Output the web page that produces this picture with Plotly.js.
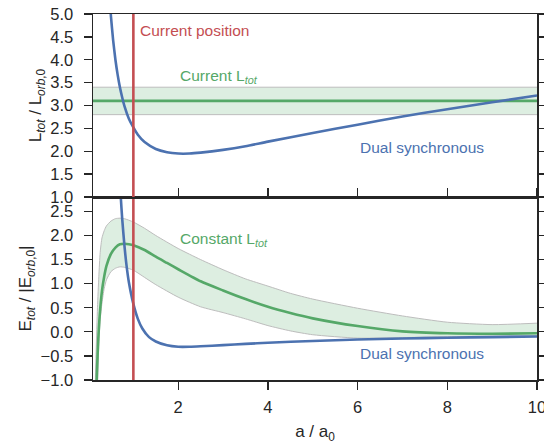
<!DOCTYPE html>
<html>
<head>
<meta charset="utf-8">
<script src="https://cdn.plot.ly/plotly-3.0.1.min.js"></script>
<style>html,body{margin:0;padding:0;background:#fff;}#plot{width:544px;height:444px;}</style>
</head>
<body>
<div id="plot"></div>
<script>
// ---------- data ----------
const currentPos = 1.0;                       // a / a0 of the current position
const xRange = [0.1, 10];

// Top panel: L_tot / L_orb,0
const topBandX = [0.1, 10];
const topBandLow = [2.8, 2.8];
const topBandHigh = [3.4, 3.4];
const topCurrentL = [3.1, 3.1];

const dsTopX = [0.45, 0.5, 0.55, 0.6, 0.65, 0.7, 0.75, 0.8, 0.9, 1.0, 1.1, 1.25, 1.5, 1.75, 2.0, 2.25, 2.5, 3.0, 3.5, 4.0, 5.0, 6.0, 7.0, 8.0, 9.0, 10.0];
const dsTopY = [5.64, 4.95, 4.42, 4.00, 3.67, 3.40, 3.18, 2.99, 2.71, 2.52, 2.36, 2.20, 2.05, 1.98, 1.95, 1.95, 1.97, 2.03, 2.11, 2.21, 2.40, 2.58, 2.76, 2.92, 3.07, 3.22];

// Bottom panel: E_tot / |E_orb,0|
const clX = [0.15, 0.18, 0.21, 0.25, 0.3, 0.35, 0.4, 0.5, 0.6, 0.7, 0.8, 0.9, 1.0, 1.25, 1.5, 1.75, 2.0, 2.5, 3.0, 3.5, 4.0, 4.5, 5.0, 6.0, 7.0, 8.0, 9.0, 10.0];
const clY = [-2.0, -1.05, -0.30, 0.35, 0.85, 1.15, 1.37, 1.62, 1.75, 1.82, 1.83, 1.82, 1.80, 1.70, 1.56, 1.43, 1.30, 1.05, 0.86, 0.68, 0.52, 0.39, 0.28, 0.12, 0.01, -0.03, -0.04, -0.03];

const bandX = [0.13, 0.15, 0.17, 0.2, 0.23, 0.26, 0.3, 0.35, 0.4, 0.5, 0.6, 0.7, 0.8, 1.0, 1.25, 1.5, 2.0, 2.5, 3.0, 3.5, 4.0, 4.5, 5.0, 6.0, 7.0, 8.0, 9.0, 10.0];
const bandHigh = [-2.0, -1.1, -0.4, 0.5, 1.15, 1.65, 1.95, 2.10, 2.20, 2.30, 2.35, 2.36, 2.35, 2.28, 2.15, 2.00, 1.73, 1.50, 1.29, 1.10, 0.95, 0.80, 0.68, 0.49, 0.33, 0.20, 0.15, 0.18];
const bandLow = [-6.0, -4.0, -2.5, -1.2, -0.25, 0.25, 0.60, 0.90, 1.08, 1.25, 1.32, 1.35, 1.34, 1.28, 1.13, 0.98, 0.72, 0.52, 0.40, 0.27, 0.13, 0.02, -0.06, -0.13, -0.12, -0.10, -0.09, -0.08];

const dsBotX = [0.65, 0.7, 0.72, 0.75, 0.8, 0.85, 0.9, 1.0, 1.1, 1.2, 1.35, 1.5, 1.75, 2.0, 2.25, 2.5, 3.0, 3.5, 4.0, 5.0, 6.0, 7.0, 8.0, 9.0, 10.0];
const dsBotY = [4.1, 3.1, 2.79, 2.36, 1.80, 1.36, 1.03, 0.58, 0.27, 0.07, -0.11, -0.20, -0.28, -0.31, -0.31, -0.30, -0.275, -0.25, -0.226, -0.19, -0.16, -0.138, -0.122, -0.109, -0.098];

const topYRange = [1, 5];
const botYRange = [-1, 2.8];

// ---------- styles ----------
const BLUE = '#4c72b0', GREEN = '#55a868', RED = '#c44e52';
const FILL = 'rgba(85,168,104,0.2)', EDGE = '#bdbdbd';
const FONT = 'Liberation Sans, Arial, sans-serif';
const INK = '#262626';

const traces = [
  // top panel
  {x: topBandX, y: topBandHigh, xaxis: 'x2', yaxis: 'y2', mode: 'lines', line: {color: EDGE, width: 1}},
  {x: topBandX, y: topBandLow, xaxis: 'x2', yaxis: 'y2', mode: 'lines', line: {color: EDGE, width: 1}, fill: 'tonexty', fillcolor: FILL},
  {x: topBandX, y: topCurrentL, xaxis: 'x2', yaxis: 'y2', mode: 'lines', line: {color: GREEN, width: 2.6}},
  {x: dsTopX, y: dsTopY, xaxis: 'x2', yaxis: 'y2', mode: 'lines', line: {color: BLUE, width: 2.6, shape: 'spline', smoothing: 0.6}},
  {x: [currentPos, currentPos], y: topYRange, xaxis: 'x2', yaxis: 'y2', mode: 'lines', line: {color: RED, width: 2.6}},
  // bottom panel
  {x: bandX, y: bandHigh, xaxis: 'x', yaxis: 'y', mode: 'lines', line: {color: EDGE, width: 1, shape: 'spline', smoothing: 0.6}},
  {x: bandX, y: bandLow, xaxis: 'x', yaxis: 'y', mode: 'lines', line: {color: EDGE, width: 1, shape: 'spline', smoothing: 0.6}, fill: 'tonexty', fillcolor: FILL},
  {x: clX, y: clY, xaxis: 'x', yaxis: 'y', mode: 'lines', line: {color: GREEN, width: 2.6, shape: 'spline', smoothing: 0.6}},
  {x: dsBotX, y: dsBotY, xaxis: 'x', yaxis: 'y', mode: 'lines', line: {color: BLUE, width: 2.6, shape: 'spline', smoothing: 0.6}},
  {x: [currentPos, currentPos], y: botYRange, xaxis: 'x', yaxis: 'y', mode: 'lines', line: {color: RED, width: 2.6}}
];

const axisCommon = {
  showline: true, linecolor: INK, linewidth: 1.5, showgrid: false, zeroline: false,
  tickfont: {family: FONT, size: 16.5, color: INK}, tickcolor: INK, tickwidth: 1.3, ticklen: 8,
  ticklabeloverflow: 'allow'
};

const layout = {
  width: 544, height: 444,
  margin: {l: 93, r: 7, t: 14, b: 64},
  paper_bgcolor: '#ffffff', plot_bgcolor: '#ffffff',
  showlegend: false,
  font: {family: FONT, color: INK},
  xaxis: Object.assign({}, axisCommon, {
    domain: [0, 1], anchor: 'y', range: xRange, tickmode: 'linear', tick0: 0, dtick: 2,
    ticks: 'outside', mirror: 'ticks', ticklabelstandoff: 4,
    title: {text: 'a / a<sub>0</sub>', font: {family: FONT, size: 17, color: INK}}
  }),
  xaxis2: Object.assign({}, axisCommon, {
    domain: [0, 1], anchor: 'y2', range: xRange, matches: 'x', showticklabels: false, ticks: '', mirror: true
  }),
  yaxis: Object.assign({}, axisCommon, {
    domain: [0, 0.5], anchor: 'x', range: botYRange, tickmode: 'linear', tick0: -1, dtick: 0.5,
    tickformat: '.1f', ticks: 'outside', mirror: 'ticks', ticklabelstandoff: 7,
    title: {text: 'E<sub><i>tot</i></sub> / |E<sub><i>orb</i>,0</sub>|', font: {family: FONT, size: 17, color: INK}, standoff: 4}
  }),
  yaxis2: Object.assign({}, axisCommon, {
    domain: [0.5, 1], anchor: 'x2', range: topYRange, tickmode: 'linear', tick0: 1, dtick: 0.5,
    tickformat: '.1f', ticks: 'outside', mirror: 'ticks', ticklabelstandoff: 7,
    title: {text: 'L<sub><i>tot</i></sub> / L<sub><i>orb</i>,0</sub>', font: {family: FONT, size: 17, color: INK}, standoff: 4}
  }),
  annotations: [
    {text: 'Current position', xref: 'x2', yref: 'y2', x: 1.1, y: 4.63, xanchor: 'left', yanchor: 'middle', showarrow: false, font: {family: FONT, size: 15.5, color: RED}},
    {text: 'Current L<sub><i>tot</i></sub>', xref: 'x2', yref: 'y2', x: 2.0, y: 3.63, xanchor: 'left', yanchor: 'middle', showarrow: false, font: {family: FONT, size: 15.5, color: GREEN}},
    {text: 'Dual synchronous', xref: 'x2', yref: 'y2', x: 6.0, y: 2.09, xanchor: 'left', yanchor: 'middle', showarrow: false, font: {family: FONT, size: 15.5, color: BLUE}},
    {text: 'Constant L<sub><i>tot</i></sub>', xref: 'x', yref: 'y', x: 2.0, y: 1.92, xanchor: 'left', yanchor: 'middle', showarrow: false, font: {family: FONT, size: 15.5, color: GREEN}},
    {text: 'Dual synchronous', xref: 'x', yref: 'y', x: 6.0, y: -0.45, xanchor: 'left', yanchor: 'middle', showarrow: false, font: {family: FONT, size: 15.5, color: BLUE}}
  ],
  hovermode: false
};

Plotly.newPlot('plot', traces, layout, {staticPlot: true, displayModeBar: false});
</script>
</body>
</html>
